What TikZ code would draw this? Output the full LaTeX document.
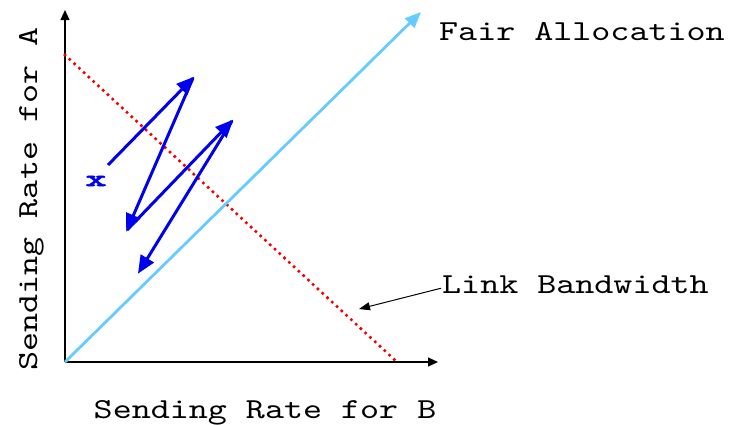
\documentclass[tikz,border=0pt]{standalone}
\usepackage{fontspec}
\newfontfamily\cour[FakeStretch=1.25]{lmmono10-regular.otf}
\newfontfamily\courb[FakeStretch=1.75,FakeBold=2.5]{lmmonolt10-bold.otf}
\usetikzlibrary{arrows.meta}
\definecolor{fairblue}{RGB}{102,204,255}
\definecolor{zigblue}{RGB}{0,0,240}
\definecolor{linkred}{RGB}{240,0,0}
\tikzset{
  axis/.style={line width=1.2pt, -{Triangle[length=10pt,width=9pt]}},
  zig/.style={zigblue, line width=3pt, -{Triangle[length=18pt,width=15pt]}, shorten >=-2pt},
  lbl/.style={font=\cour\fontsize{29}{34}\selectfont, inner sep=0pt},
  ptr/.style={line width=1pt, -{Triangle[length=11pt,width=8pt]}}
}
\begin{document}
\begin{tikzpicture}[x=1pt,y=-1pt]
\useasboundingbox (0,0) rectangle (731,424);
% coordinates
\coordinate (O) at (65,362);
\coordinate (ytop) at (65,10);
\coordinate (xend) at (438,362);
\coordinate (r1) at (65,55);
\coordinate (r2) at (397,362);
\coordinate (f2) at (421,12);
\coordinate (z0) at (108,165);
\coordinate (z1) at (193,78);
\coordinate (z2) at (127,230);
\coordinate (z3) at (232,121);
\coordinate (z4) at (139,272);
\coordinate (lp) at (359,309);
% axes
\draw[axis] (O) -- (ytop);
\draw[axis] (O) -- (xend);
% link bandwidth (red dotted)
\draw[linkred, line width=3.6pt, line cap=round, dash pattern=on 0pt off 6.5pt] (r1) -- (r2);
% fair allocation
\draw[fairblue, line width=2.8pt, -{Triangle[length=16pt,width=13pt]}] (O) -- (f2);
% zigzag
\draw[zig] (z0) -- (z1);
\draw[zig] (z1) -- (z2);
\draw[zig] (z2) -- (z3);
\draw[zig] (z3) -- (z4);
% labels
\node[lbl, anchor=base west] (fair) at (439,40) {Fair Allocation};
\node[lbl, anchor=base west] (link) at (442,293) {Link Bandwidth};
\draw[ptr] (link.west) ++(-1pt,-4pt) coordinate (lq) (lq) -- (lp);
\node[lbl, anchor=base] (xl) at (265,418) {Sending Rate for B};
\node[lbl, anchor=base, rotate=90] (yl) at (37,199) {Sending Rate for A};
\node[font=\courb\fontsize{23}{24}\selectfont, text=zigblue, inner sep=0pt, anchor=base] (xx) at (96,186) {x};
\end{tikzpicture}
\end{document}
